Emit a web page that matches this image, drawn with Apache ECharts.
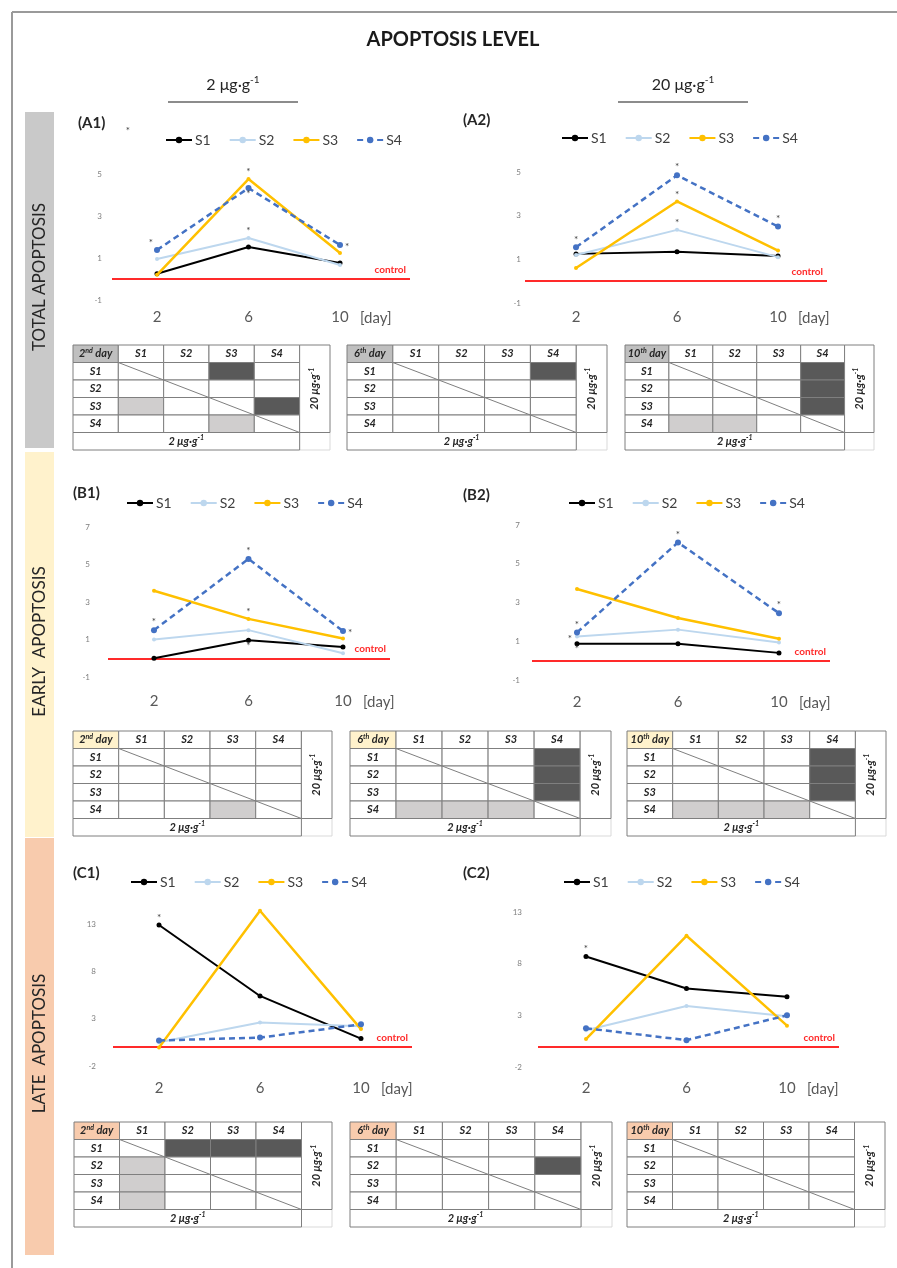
<!DOCTYPE html>
<html>
<head>
<meta charset="utf-8">
<script src="https://cdn.jsdelivr.net/npm/echarts@6/dist/echarts.min.js"></script>
<style>
  html, body { margin: 0; padding: 0; background: #ffffff; }
  #chart { width: 897px; height: 1268px; }
</style>
</head>
<body>
<div id="chart"></div>
<script>
// ---- data ---------------------------------------------------------------
const days = [2, 6, 10];
const seriesNames = ['S1', 'S2', 'S3', 'S4'];

// apoptosis level per series (rows S1..S4) on days 2, 6, 10
const totalLow  = [[0.25, 1.52, 0.76], [0.95, 1.95, 0.67], [0.2, 4.76, 1.24], [1.38, 4.33, 1.62]];
const totalHigh = [[1.25, 1.35, 1.15], [1.2, 2.35, 1.1], [0.6, 3.65, 1.4], [1.55, 4.85, 2.5]];
const earlyLow  = [[0.0, 0.96, 0.6], [1.0, 1.5, 0.27], [3.6, 2.1, 1.05], [1.5, 5.3, 1.45]];
const earlyHigh = [[0.87, 0.87, 0.4], [1.25, 1.6, 0.93], [3.7, 2.2, 1.13], [1.45, 6.1, 2.45]];
const lateLow   = [[12.9, 5.4, 0.9], [0.5, 2.6, 2.2], [-0.05, 14.4, 1.9], [0.7, 1.0, 2.4]];
const lateHigh  = [[8.7, 5.6, 4.8], [1.55, 3.9, 2.9], [0.7, 10.7, 2.0], [1.75, 0.6, 3.0]];

const yTicksTotal = [-1, 1, 3, 5];
const yTicksEarly = [-1, 1, 3, 5, 7];
const yTicksLate  = [-2, 3, 8, 13];

// significance asterisks: [series index, day index, side of the point]
const totalLowStars  = [[3, 0, 'tl'], [2, 1, 't'], [3, 1, 'b'], [1, 1, 't'], [3, 2, 'r']];
const totalHighStars = [[3, 0, 't'], [3, 1, 't'], [2, 1, 't'], [1, 1, 't'], [3, 2, 't']];
const earlyLowStars  = [[3, 0, 't'], [3, 1, 't'], [2, 1, 't'], [0, 1, 'b'], [3, 2, 'r']];
const earlyHighStars = [[3, 0, 't'], [1, 0, 'l'], [0, 0, 'b'], [3, 1, 't'], [3, 2, 't']];
const lateLowStars   = [[0, 0, 't']];
const lateHighStars  = [[0, 0, 't']];

// pairwise comparison tables (rows/cols S1..S4): 1 = significant at 20 µg·g-1, 2 = at 2 µg·g-1
const totalSig = [
  [[0, 0, 1, 0], [0, 0, 0, 0], [2, 0, 0, 1], [0, 0, 2, 0]],
  [[0, 0, 0, 1], [0, 0, 0, 0], [0, 0, 0, 0], [0, 0, 0, 0]],
  [[0, 0, 0, 1], [0, 0, 0, 1], [0, 0, 0, 1], [2, 2, 0, 0]]
];
const earlySig = [
  [[0, 0, 0, 0], [0, 0, 0, 0], [0, 0, 0, 0], [0, 0, 2, 0]],
  [[0, 0, 0, 1], [0, 0, 0, 1], [0, 0, 0, 1], [2, 2, 2, 0]],
  [[0, 0, 0, 1], [0, 0, 0, 1], [0, 0, 0, 1], [2, 2, 2, 0]]
];
const lateSig = [
  [[0, 1, 1, 1], [2, 0, 0, 0], [2, 0, 0, 0], [2, 0, 0, 0]],
  [[0, 0, 0, 0], [0, 0, 0, 1], [0, 0, 0, 0], [0, 0, 0, 0]],
  [[0, 0, 0, 0], [0, 0, 0, 0], [0, 0, 0, 0], [0, 0, 0, 0]]
];
const dayLabels = [['2', 'nd'], ['6', 'th'], ['10', 'th']];

// ---- styles -------------------------------------------------------------
const FONT = 'Lato, "Open Sans", "DejaVu Sans", sans-serif';
const lineColors = ['#000000', '#bdd7ee', '#ffc000', '#4472c4'];
const lineWidths = [2, 2, 2.5, 2.5];
const symbolSizes = [5, 4, 4, 6];
const sigFill = ['#ffffff', '#595959', '#d0cece'];
const headFill = ['#bfbfbf', '#fff2cc', '#f8cbad'];

// ---- layout of the six line panels --------------------------------------
const panels = [
  { name: '(A1)', data: totalLow,  stars: totalLowStars,  ticks: yTicksTotal,
    box: [112, 410, 174, 300], xr: [0.033, 13.06], ym: 10, xm: 10, leg: [165, 142], lab: [78, 123] },
  { name: '(A2)', data: totalHigh, stars: totalHighStars, ticks: yTicksTotal,
    box: [525, 827, 172, 303], xr: [-0.02, 11.94], ym: 4, xm: 7, leg: [561, 140], lab: [463, 120] },
  { name: '(B1)', data: earlyLow,  stars: earlyLowStars,  ticks: yTicksEarly,
    box: [108, 390, 527, 677], xr: [0.053, 11.99], ym: 18, xm: 17, leg: [126, 505], lab: [73, 493] },
  { name: '(B2)', data: earlyHigh, stars: earlyHighStars, ticks: yTicksEarly,
    box: [532, 830, 525, 680], xr: [0.218, 12.02], ym: 12, xm: 15, leg: [568, 505], lab: [463, 495] },
  { name: '(C1)', data: lateLow,   stars: lateLowStars,   ticks: yTicksLate,
    box: [113, 412, 924, 1066], xr: [0.178, 12.02], ym: 17, xm: 15, leg: [130, 884], lab: [73, 873] },
  { name: '(C2)', data: lateHigh,  stars: lateHighStars,  ticks: yTicksLate,
    box: [538, 839, 912, 1067], xr: [0.09, 12.07], ym: 16, xm: 14, leg: [563, 884], lab: [463, 873] }
];

// ---- layout of the nine comparison tables -------------------------------
const tableRows = [
  { sig: totalSig, top: 345, xs: [[73, 257], [347, 260], [625, 249]] },
  { sig: earlySig, top: 731, xs: [[73, 259], [350, 261], [627, 259]] },
  { sig: lateSig,  top: 1122, xs: [[74, 258], [350, 262], [627, 258]] }
];
const TABLE_H = 105;
const TABLE_W_UNITS = 5.67;

const grids = [], xAxes = [], yAxes = [], series = [], legends = [], graphics = [];

const starPos = {
  t: { position: 'top', distance: 0 },
  b: { position: 'bottom', distance: -2 },
  l: { position: 'left', distance: 3, offset: [0, 2] },
  r: { position: 'right', distance: 2, offset: [0, 2] },
  tl: { position: 'left', distance: 1, offset: [0, -7] }
};

panels.forEach((p, i) => {
  const [L, R, T, B] = p.box;
  grids.push({ left: L, top: T, width: R - L, height: B - T, containLabel: false, outerBoundsMode: 'none' });
  xAxes.push({
    gridIndex: i, type: 'value', min: p.xr[0], max: p.xr[1],
    axisLine: { show: false }, axisTick: { show: false }, splitLine: { show: false },
    axisLabel: { customValues: days, margin: p.xm, fontSize: 15, color: '#595959', fontFamily: FONT }
  });
  yAxes.push({
    gridIndex: i, type: 'value', min: p.ticks[0], max: p.ticks[p.ticks.length - 1],
    axisLine: { show: false }, axisTick: { show: false }, splitLine: { show: false },
    axisLabel: { customValues: p.ticks, margin: p.ym, fontSize: 8, color: '#7f7f7f', fontFamily: FONT }
  });
  seriesNames.forEach((s, k) => {
    const pts = days.map((d, j) => {
      const item = { value: [d, p.data[k][j]] };
      const st = p.stars.find(a => a[0] === k && a[1] === j);
      if (st) {
        item.label = Object.assign({ show: true, formatter: '*', fontSize: 10, color: '#404040',
          fontFamily: FONT }, starPos[st[2]]);
      }
      return item;
    });
    const ser = {
      type: 'line', name: s, xAxisIndex: i, yAxisIndex: i, data: pts, clip: false,
      symbol: 'circle', symbolSize: symbolSizes[k], showSymbol: true,
      itemStyle: { color: lineColors[k] },
      lineStyle: { color: lineColors[k], width: lineWidths[k], type: k === 3 ? [6, 4] : 'solid' },
      emphasis: { disabled: true }, silent: true, z: 3 + k
    };
    if (k === 0) {
      ser.markLine = {
        silent: true, symbol: 'none', animation: false,
        data: [{ yAxis: 0 }],
        lineStyle: { color: '#ff2a2a', width: 2, type: 'solid' },
        label: { formatter: 'control', position: 'insideEndTop', color: '#ff2a2a',
          fontSize: 10, fontWeight: 'bold', fontFamily: FONT, distance: 4 },
        z: 1
      };
    }
    series.push(ser);
  });
  legends.push({
    data: seriesNames, left: p.leg[0], top: p.leg[1] - 9, padding: 0,
    itemWidth: 26, itemHeight: 8, itemGap: 18, selectedMode: false,
    textStyle: { fontSize: 14, color: '#404040', fontFamily: FONT, padding: [0, 0, 0, -2] }
  });
  // panel caption and axis unit
  graphics.push({ type: 'text', x: p.lab[0], y: p.lab[1],
    style: { text: p.name, fill: '#262626', fontSize: 15, fontWeight: 'bold', fontFamily: FONT,
      align: 'left', verticalAlign: 'middle' } });
  const x10 = L + (10 - p.xr[0]) / (p.xr[1] - p.xr[0]) * (R - L);
  graphics.push({ type: 'text', x: x10 + 20, y: B + p.xm + 8,
    style: { text: '[day]', fill: '#595959', fontSize: 15, fontFamily: FONT,
      align: 'left', verticalAlign: 'middle' } });
});

// ---- comparison tables --------------------------------------------------
const cellRich = {
  n: { fontSize: 11, fontWeight: 'bold', fontStyle: 'italic', fontFamily: FONT, fill: '#262626', lineHeight: 14 },
  s: { fontSize: 7, fontWeight: 'bold', fontStyle: 'italic', fontFamily: FONT, fill: '#262626',
       lineHeight: 8, verticalAlign: 'top' }
};

function tableCells(matrix, day, headColor) {
  const cells = [];
  cells.push({ r: [0, 0, 1, 1], fill: headColor, text: '{n|' + day[0] + '}{s|' + day[1] + '}{n| day}' });
  seriesNames.forEach((s, i) => {
    cells.push({ r: [i + 1, 0, i + 2, 1], fill: '#ffffff', text: '{n|' + s + '}' });
    cells.push({ r: [0, i + 1, 1, i + 2], fill: '#ffffff', text: '{n|' + s + '}' });
  });
  matrix.forEach((row, r) => row.forEach((v, c) => {
    cells.push({ r: [c + 1, r + 1, c + 2, r + 2], fill: sigFill[v], text: '' });
  }));
  cells.push({ r: [5, 0, TABLE_W_UNITS, 5], fill: '#ffffff', text: '{n|20 μg·g}{s|-1}', vertical: true });
  cells.push({ r: [0, 5, 5, 6], fill: '#ffffff', text: '{n|2 μg·g}{s|-1}' });
  cells.push({ r: [5, 5, TABLE_W_UNITS, 6], fill: '#ffffff', text: '', faint: true });
  return cells;
}

let gi = panels.length;
tableRows.forEach((row, ri) => {
  row.xs.forEach(([left, width], di) => {
    grids.push({ left: left, top: row.top, width: width, height: TABLE_H, containLabel: false, outerBoundsMode: 'none' });
    xAxes.push({ gridIndex: gi, type: 'value', min: 0, max: TABLE_W_UNITS, show: false });
    yAxes.push({ gridIndex: gi, type: 'value', min: 0, max: 6, inverse: true, show: false });
    const cells = tableCells(row.sig[di], dayLabels[di], headFill[ri]);
    series.push({
      type: 'custom', xAxisIndex: gi, yAxisIndex: gi, silent: true, clip: false, z: 2,
      data: cells.map(c => c.r),
      renderItem: (params, api) => {
        const c = cells[params.dataIndex];
        const p0 = api.coord([c.r[0], c.r[1]]);
        const p1 = api.coord([c.r[2], c.r[3]]);
        const children = [{
          type: 'rect', z2: c.faint ? 0 : 1,
          shape: { x: p0[0], y: p0[1], width: p1[0] - p0[0], height: p1[1] - p0[1] },
          style: { fill: c.fill, stroke: c.faint ? '#d9d9d9' : '#7f7f7f', lineWidth: 1 }
        }];
        if (c.text) {
          children.push({
            type: 'text', z2: 5,
            x: (p0[0] + p1[0]) / 2, y: (p0[1] + p1[1]) / 2,
            rotation: c.vertical ? Math.PI / 2 : 0,
            style: { text: c.text, rich: cellRich, align: 'center', verticalAlign: 'middle' }
          });
        }
        return { type: 'group', children: children };
      }
    });
    // diagonal across the S1..S4 block
    series.push({
      type: 'line', xAxisIndex: gi, yAxisIndex: gi, silent: true, z: 4,
      data: [[1, 1], [5, 5]], symbol: 'none',
      lineStyle: { color: '#7f7f7f', width: 1 }, emphasis: { disabled: true }
    });
    gi++;
  });
});

// ---- frame, headings and side bands --------------------------------------
const supRich = (size) => ({
  n: { fontSize: size, fontFamily: FONT, fill: '#262626', lineHeight: size + 4 },
  s: { fontSize: Math.round(size * 0.62), fontFamily: FONT, fill: '#262626',
       lineHeight: Math.round(size * 0.62), verticalAlign: 'top' }
});

graphics.push(
  { type: 'line', shape: { x1: 12, y1: 12, x2: 897, y2: 12 }, style: { stroke: '#9a9a9a', lineWidth: 2 } },
  { type: 'line', shape: { x1: 12, y1: 12, x2: 12, y2: 1268 }, style: { stroke: '#9a9a9a', lineWidth: 2 } },
  { type: 'text', x: 453, y: 40,
    style: { text: 'APOPTOSIS LEVEL', fill: '#1a1a1a', fontSize: 20, fontWeight: 'bold', fontFamily: FONT,
      align: 'center', verticalAlign: 'middle' } },
  { type: 'text', x: 233, y: 85,
    style: { text: '{n|2 μg·g}{s|-1}', rich: supRich(16), align: 'center', verticalAlign: 'middle' } },
  { type: 'line', shape: { x1: 168, y1: 102, x2: 298, y2: 102 }, style: { stroke: '#8c8c8c', lineWidth: 2 } },
  { type: 'text', x: 683, y: 85,
    style: { text: '{n|20 μg·g}{s|-1}', rich: supRich(16), align: 'center', verticalAlign: 'middle' } },
  { type: 'line', shape: { x1: 618, y1: 102, x2: 748, y2: 102 }, style: { stroke: '#8c8c8c', lineWidth: 2 } },
  { type: 'text', x: 128, y: 131,
    style: { text: '*', fill: '#404040', fontSize: 10, fontFamily: FONT, align: 'center', verticalAlign: 'middle' } }
);

const bands = [
  { y0: 112, y1: 448, fill: '#c9c9c9', text: 'TOTAL APOPTOSIS' },
  { y0: 452, y1: 837, fill: '#fff2cc', text: 'EARLY  APOPTOSIS' },
  { y0: 838, y1: 1255, fill: '#f8cbad', text: 'LATE  APOPTOSIS' }
];
bands.forEach(b => {
  graphics.push({ type: 'rect', shape: { x: 25, y: b.y0, width: 29, height: b.y1 - b.y0 },
    style: { fill: b.fill }, z: -1 });
  graphics.push({ type: 'text', x: 40, y: (b.y0 + b.y1) / 2 - 3, rotation: Math.PI / 2,
    style: { text: b.text, fill: '#262626', fontSize: 17, fontFamily: FONT,
      align: 'center', verticalAlign: 'middle' } });
});

const chart = echarts.init(document.getElementById('chart'), null, { renderer: 'canvas' });
chart.setOption({
  animation: false,
  backgroundColor: '#ffffff',
  grid: grids,
  xAxis: xAxes,
  yAxis: yAxes,
  legend: legends,
  series: series,
  graphic: graphics
});
</script>
</body>
</html>
